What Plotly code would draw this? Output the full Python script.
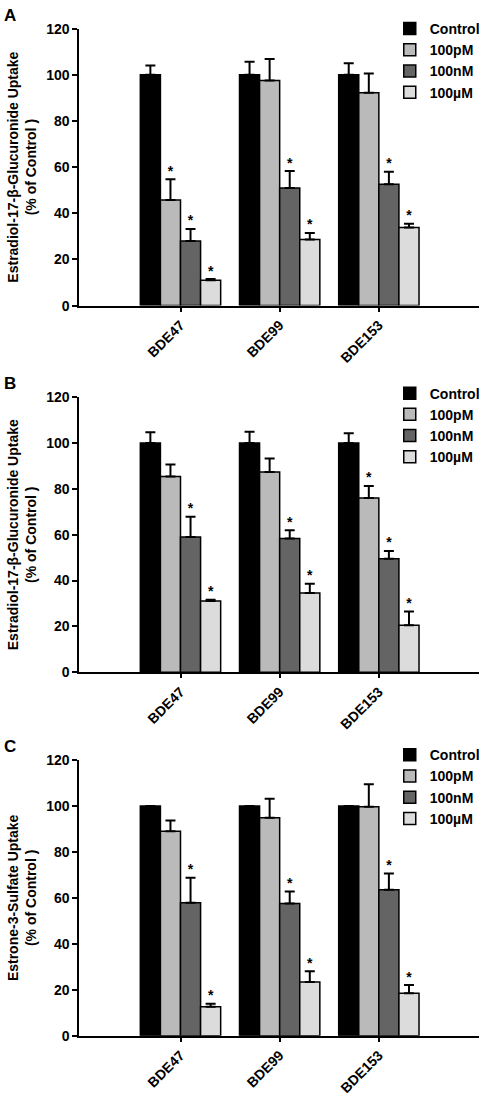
import plotly.graph_objects as go

categories = ["BDE47", "BDE99", "BDE153"]
series_names = ["Control", "100pM", "100nM", "100µM"]
series_colors = ["#000000", "#bababa", "#646464", "#dcdcdc"]
y_ticks = [0, 20, 40, 60, 80, 100, 120]

# Panel A: Estradiol-17-beta-Glucuronide uptake
a_values = [[100, 100, 100], [45.8, 97.6, 92.2], [28.0, 51.0, 52.6], [11.0, 28.7, 33.8]]
a_errors = [[4.0, 5.7, 5.0], [9.0, 9.3, 8.4], [5.2, 7.3, 5.4], [0.5, 2.8, 1.7]]
a_sig = [[0, 0, 0], [1, 0, 0], [1, 1, 1], [1, 1, 1]]

# Panel B: Estradiol-17-beta-Glucuronide uptake
b_values = [[100, 100, 100], [85.4, 87.4, 76.0], [59.0, 58.4, 49.5], [31.1, 34.6, 20.5]]
b_errors = [[4.7, 4.9, 4.3], [5.3, 5.9, 5.3], [8.9, 3.6, 3.4], [0.5, 4.0, 6.0]]
b_sig = [[0, 0, 0], [0, 0, 1], [1, 1, 1], [1, 1, 1]]

# Panel C: Estrone-3-Sulfate uptake
c_values = [[100, 100, 100], [89.0, 94.9, 99.6], [57.9, 57.6, 63.5], [12.7, 23.4, 18.5]]
c_errors = [[0, 0, 0], [4.6, 8.2, 9.8], [10.9, 5.2, 7.1], [1.3, 4.7, 3.6]]
c_sig = [[0, 0, 0], [0, 0, 0], [1, 1, 1], [1, 1, 1]]

panel_letters = ["A", "B", "C"]
y_titles = [
    "Estradiol-17-β-Glucuronide Uptake<br>(% of Control )",
    "Estradiol-17-β-Glucuronide Uptake<br>(% of Control )",
    "Estrone-3-Sulfate Uptake<br>(% of Control )",
]

W, H = 485, 1101
FONT = "Liberation Sans, Arial, sans-serif"
BARGAP = 0.19
n_series = len(series_names)
bar_w = (1 - BARGAP) / n_series

# pixel layout of each panel (top of 120, y of 0)
panel_px = [(21, 302), (395, 674), (763, 1043)]
legend_top_px = [5, 375, 742]
letter_px = [8, 381, 749]

fig = go.Figure()
panels = [(a_values, a_errors, a_sig), (b_values, b_errors, b_sig), (c_values, c_errors, c_sig)]
xpos = list(range(len(categories)))

for p, (vals, errs, sig) in enumerate(panels):
    xa = "x" if p == 0 else f"x{p+1}"
    ya = "y" if p == 0 else f"y{p+1}"
    lg = "legend" if p == 0 else f"legend{p+1}"
    for s in range(n_series):
        fig.add_trace(go.Bar(
            x=xpos, y=vals[s], name=series_names[s], xaxis=xa, yaxis=ya, legend=lg,
            marker=dict(color=series_colors[s], line=dict(color="black", width=1.5)),
            error_y=dict(type="data", array=errs[s], arrayminus=[0] * len(errs[s]),
                         symmetric=False, color="black", thickness=2, width=5),
            offsetgroup=str(s),
        ))
    # significance asterisks
    sx, sy = [], []
    for s in range(n_series):
        for i in range(len(categories)):
            if sig[s][i]:
                sx.append(xpos[i] + (s - (n_series - 1) / 2) * bar_w)
                sy.append(vals[s][i] + errs[s][i])
    fig.add_trace(go.Scatter(
        x=sx, y=sy, mode="text", text=["*"] * len(sx), textposition="top center",
        textfont=dict(family=FONT, size=14, color="black", weight="bold"),
        xaxis=xa, yaxis=ya, showlegend=False, cliponaxis=False, hoverinfo="skip",
    ))

    top_px, zero_px = panel_px[p]
    dom = [(H - zero_px) / H, (H - top_px) / H]
    axis_font = dict(family=FONT, size=14, color="black", weight="bold")
    fig.layout[("xaxis" if p == 0 else f"xaxis{p+1}")] = dict(
        domain=[80 / W, 483 / W], anchor=ya, range=[-1.02, 3.01],
        tickvals=xpos, ticktext=categories, tickangle=-45,
        showline=True, linecolor="black", linewidth=2,
        ticks="outside", ticklen=4, tickwidth=2, tickcolor="black",
        showgrid=False, zeroline=False, tickfont=axis_font,
    )
    fig.layout[("yaxis" if p == 0 else f"yaxis{p+1}")] = dict(
        domain=dom, anchor=xa, range=[0, 120], tickvals=y_ticks,
        showline=True, linecolor="black", linewidth=2,
        ticks="outside", ticklen=5, tickwidth=2, tickcolor="black",
        showgrid=False, zeroline=False, tickfont=axis_font,
        title=dict(text=y_titles[p], font=dict(family=FONT, size=14, color="black", weight="bold"),
                   standoff=6),
    )
    fig.layout[lg] = dict(
        x=393 / W, y=(H - legend_top_px[p]) / H, xanchor="left", yanchor="top",
        bgcolor="rgba(0,0,0,0)", tracegroupgap=0,
        font=dict(family=FONT, size=14, color="black", weight="bold"),
    )
    fig.add_annotation(
        text=panel_letters[p], xref="paper", yref="paper", x=2 / W, y=(H - letter_px[p]) / H,
        xanchor="left", yanchor="middle", showarrow=False,
        font=dict(family=FONT, size=17, color="black", weight="bold"),
    )

fig.update_layout(
    width=W, height=H, margin=dict(l=0, r=0, t=0, b=0),
    paper_bgcolor="white", plot_bgcolor="white",
    barmode="group", bargap=BARGAP, bargroupgap=0,
)

fig.write_html("out.html", config={"displayModeBar": False},
               post_script="document.body.style.margin='0';document.body.style.overflow='hidden';")
